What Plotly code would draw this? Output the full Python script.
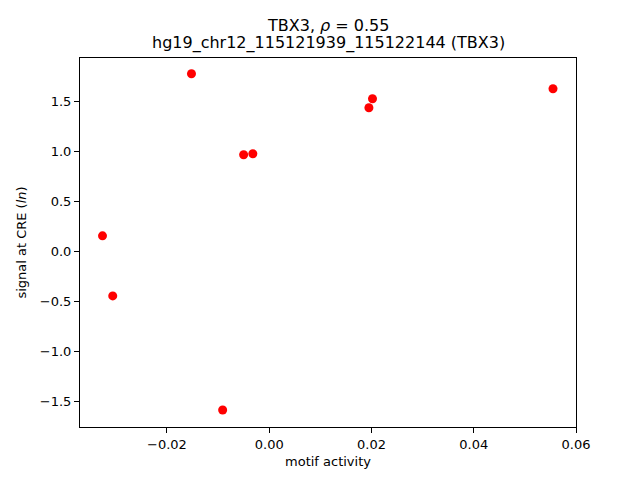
import plotly.graph_objects as go

motif_activity = [-0.0326, -0.0306, -0.0152, -0.0091, -0.0050, -0.0032, 0.0195, 0.0202, 0.0555]
signal = [0.155, -0.445, 1.775, -1.585, 0.965, 0.975, 1.435, 1.525, 1.625]

x_ticks = [-0.02, 0.00, 0.02, 0.04, 0.06]
x_tick_labels = ["\u22120.02", "0.00", "0.02", "0.04", "0.06"]
y_ticks = [-1.5, -1.0, -0.5, 0.0, 0.5, 1.0, 1.5]
y_tick_labels = ["\u22121.5", "\u22121.0", "\u22120.5", "0.0", "0.5", "1.0", "1.5"]

title_line1 = "TBX3, <i>ρ</i> = 0.55"
title_line2 = "hg19_chr12_115121939_115122144 (TBX3)"

font = "DejaVu Sans"

fig = go.Figure()
fig.add_trace(go.Scatter(
    x=motif_activity, y=signal, mode="markers",
    marker=dict(color="red", size=9, line=dict(width=0)),
    showlegend=False,
))

axis_common = dict(
    showline=True, linecolor="black", linewidth=1, mirror=True,
    ticks="outside", ticklen=5, tickwidth=1, tickcolor="black",
    showgrid=False, zeroline=False,
    tickfont=dict(family=font, size=13, color="black"),
)

fig.update_layout(
    width=640, height=480,
    margin=dict(l=80, r=64, t=58, b=53),
    paper_bgcolor="white", plot_bgcolor="white",
    font=dict(family=font, color="black"),
    xaxis=dict(
        range=[-0.0370, 0.0600],
        tickvals=x_ticks, ticktext=x_tick_labels,
        title=dict(text="motif activity", font=dict(family=font, size=13), standoff=6),
        **axis_common,
    ),
    yaxis=dict(
        range=[-1.755, 1.932],
        tickvals=y_ticks, ticktext=y_tick_labels,
        title=dict(text="signal at CRE (<i>ln</i>)", font=dict(family=font, size=13), standoff=10),
        **axis_common,
    ),
    annotations=[
        dict(text=title_line1, x=0.5, xref="paper", xanchor="center",
             y=25, yref="paper", showarrow=False,
             font=dict(family=font, size=16, color="black")),
        dict(text=title_line2, x=0.5, xref="paper", xanchor="center",
             y=43, yref="paper", showarrow=False,
             font=dict(family=font, size=16, color="black")),
    ],
)

# convert pixel title positions to paper coords
plot_h = 480 - 58 - 53
for ann, ypx in zip(fig.layout.annotations, [25, 43]):
    ann.y = (480 - 53 - ypx) / plot_h
    ann.yanchor = "middle"

fig.write_html("out.html", config={"displayModeBar": False},
               post_script="document.body.style.margin='0';")
